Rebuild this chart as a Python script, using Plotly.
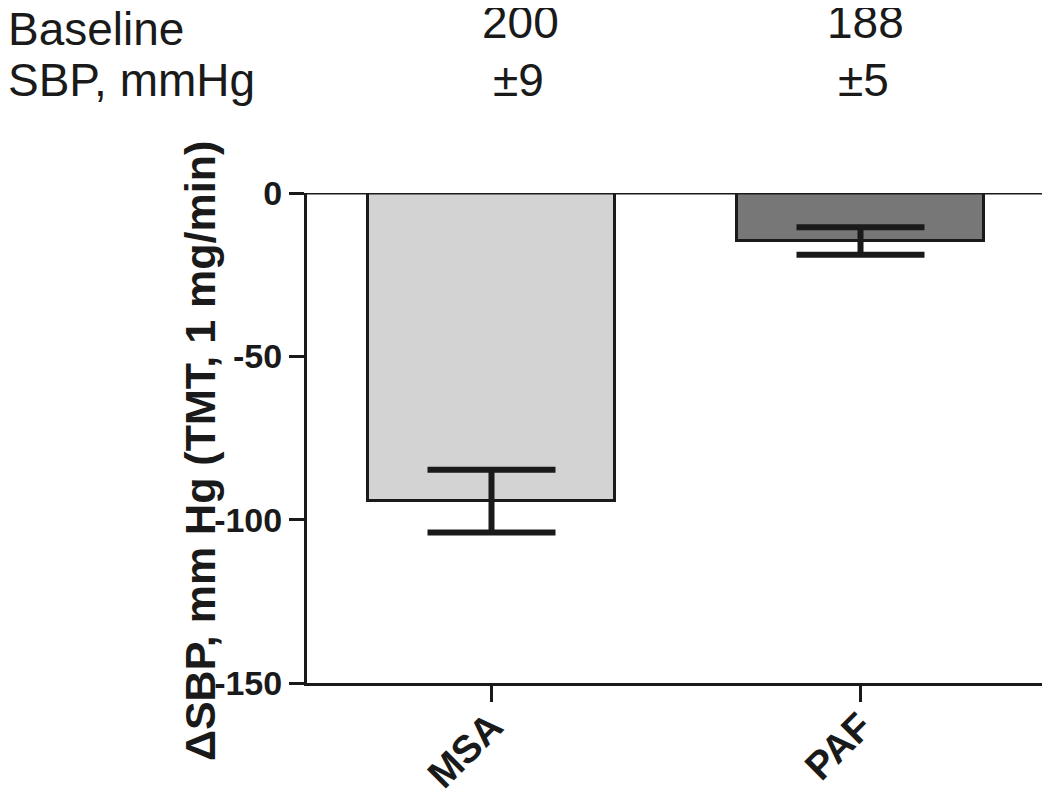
import plotly.graph_objects as go

# Data
groups = ["MSA", "PAF"]
delta_sbp = [-94.3, -14.7]
sem = [9.6, 4.2]
bar_colors = ["#d3d3d3", "#777777"]
baseline_sbp = ["200", "188"]
baseline_sem = ["±9", "±5"]
y_ticks = [0, -50, -100, -150]

# page offset of the figure inside the browser window
OX, OY = 8, 8
W, H = 1050, 792
# plot area in page pixels
PL, PR, PT, PB = 307, 1045, 193, 683
L = PL - OX
R = W - (PR - OX)
T = PT - OY
B = H - (PB - OY)
pw, ph = PR - PL, PB - PT

def px_x(p):
    return (p - PL) / pw

def px_y(p):
    return (PB - p) / ph

fig = go.Figure()
fig.add_trace(go.Bar(
    x=groups, y=delta_sbp, width=0.667,
    marker=dict(color=bar_colors, line=dict(color="#1a1a1a", width=3)),
    error_y=dict(type="data", array=sem, visible=True, color="#1a1a1a",
                 thickness=6, width=64),
    showlegend=False,
))

reg = "Liberation Sans, Arial"

fig.update_layout(
    width=W, height=H,
    margin=dict(l=L, r=R, t=T, b=B, autoexpand=False),
    plot_bgcolor="white", paper_bgcolor="white",
    bargap=0,
    xaxis=dict(
        range=[-0.5, 1.5], showline=True, linecolor="#1a1a1a", linewidth=3,
        ticks="outside", ticklen=16, tickwidth=3, tickcolor="#1a1a1a",
        tickangle=-45, showgrid=False, zeroline=False, ticklabelstandoff=-14,
        tickfont=dict(family=reg, size=39, color="#1a1a1a", weight="bold"),
    ),
    yaxis=dict(
        range=[-150, 0], tickvals=y_ticks, ticktext=[str(v) for v in y_ticks],
        showline=True, linecolor="#1a1a1a", linewidth=3,
        ticks="outside", ticklen=15, tickwidth=3, tickcolor="#1a1a1a",
        showgrid=False, zeroline=False,
        tickfont=dict(family=reg, size=34, color="#1a1a1a", weight="bold"),
    ),
)

# zero line across top
fig.add_shape(type="line", xref="paper", yref="y", x0=0, x1=1, y0=0, y1=0,
              line=dict(color="#1a1a1a", width=3))

# Y title
fig.add_annotation(text="ΔSBP, mm Hg (TMT, 1 mg/min)", xref="paper", yref="paper",
                   x=px_x(200), y=px_y(451), textangle=-90, showarrow=False,
                   font=dict(family=reg, size=43, color="#1a1a1a", weight="bold"),
                   xanchor="center", yanchor="middle")

# header
hdr_font = dict(family=reg, size=46, color="#1a1a1a")
fig.add_annotation(text="Baseline", xref="paper", yref="paper", x=px_x(6), y=px_y(28.5),
                   xanchor="left", yanchor="middle", showarrow=False, font=hdr_font)
fig.add_annotation(text="SBP, mmHg", xref="paper", yref="paper", x=px_x(6), y=px_y(79.5),
                   xanchor="left", yanchor="middle", showarrow=False, font=hdr_font)
cols = [520, 865]
for cx, v, s in zip(cols, baseline_sbp, baseline_sem):
    fig.add_annotation(text=v, xref="paper", yref="paper", x=px_x(cx), y=px_y(22),
                       xanchor="center", yanchor="middle", showarrow=False, font=hdr_font)
    fig.add_annotation(text=s, xref="paper", yref="paper", x=px_x(cx - 2), y=px_y(79.5),
                       xanchor="center", yanchor="middle", showarrow=False, font=hdr_font)

fig.write_html("out.html")
